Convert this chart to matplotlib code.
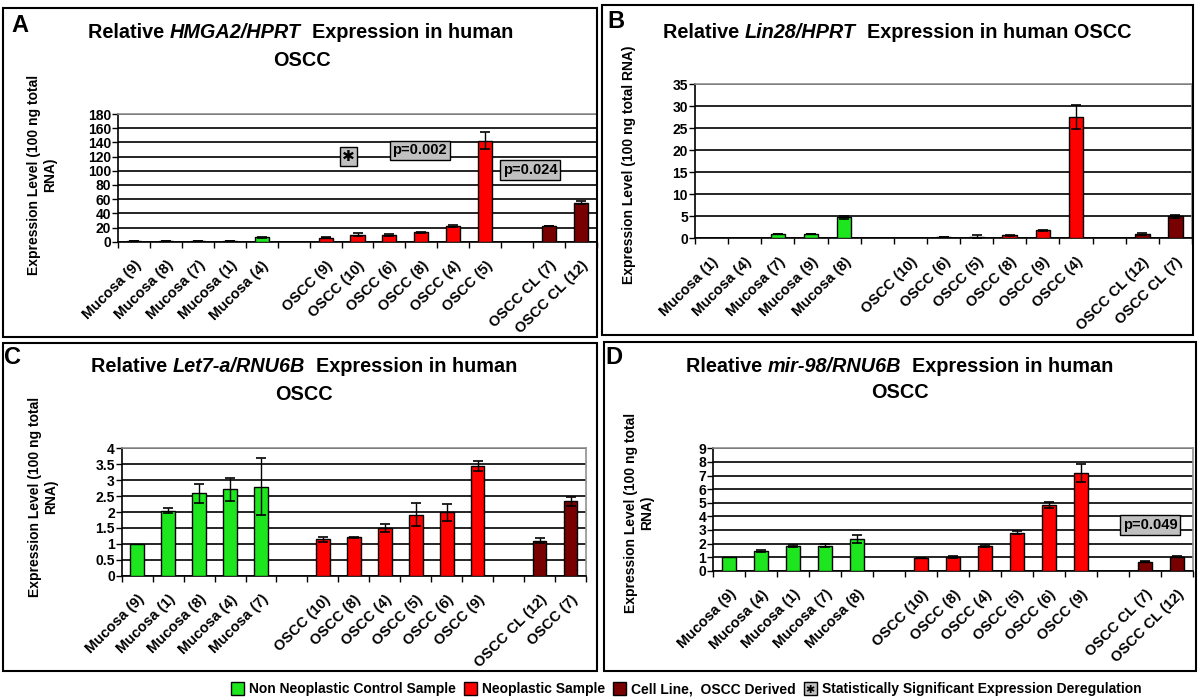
import matplotlib
matplotlib.use("Agg")
import numpy as np
import matplotlib.pyplot as plt
from matplotlib.patches import Rectangle
from matplotlib.ticker import MultipleLocator, FuncFormatter

plt.rcParams['font.family'] = ['Liberation Sans', 'DejaVu Sans']
plt.rcParams['font.weight'] = 'bold'

GREEN = '#1ee61e'
RED = '#ff0000'
DARK = '#780000'
GRAY = '#c0c0c0'
group_colors = {'M': GREEN, 'O': RED, 'C': DARK}

# ---- panel A: HMGA2/HPRT
a_labels = ['Mucosa (9)', 'Mucosa (8)', 'Mucosa (7)', 'Mucosa (1)', 'Mucosa (4)',
            'OSCC (9)', 'OSCC (10)', 'OSCC (6)', 'OSCC (8)', 'OSCC (4)', 'OSCC (5)',
            'OSCC CL (7)', 'OSCC CL (12)']
a_values = [1, 1, 1, 1, 6, 5.5, 10, 9.5, 13, 22.5, 142, 22, 55]
a_errors = [0.3, 0.3, 0.3, 0.3, 0.8, 0.5, 2, 1.5, 1, 1.5, 12, 0.5, 2]
a_groups = 'MMMMMOOOOOOCC'

# ---- panel B: Lin28/HPRT
b_labels = ['Mucosa (1)', 'Mucosa (4)', 'Mucosa (7)', 'Mucosa (9)', 'Mucosa (8)',
            'OSCC (10)', 'OSCC (6)', 'OSCC (5)', 'OSCC (8)', 'OSCC (9)', 'OSCC (4)',
            'OSCC CL (12)', 'OSCC CL (7)']
b_values = [0, 0, 1.0, 1.0, 4.8, 0, 0.3, 0.4, 0.7, 1.8, 27.6, 1.0, 5.0]
b_errors = [0, 0, 0.05, 0.05, 0.3, 0, 0.1, 0.25, 0.1, 0.05, 2.7, 0.2, 0.4]
b_groups = 'MMMMMOOOOOOCC'

# ---- panel C: Let7-a/RNU6B
c_labels = ['Mucosa (9)', 'Mucosa (1)', 'Mucosa (8)', 'Mucosa (4)', 'Mucosa (7)',
            'OSCC (10)', 'OSCC (8)', 'OSCC (4)', 'OSCC (5)', 'OSCC (6)', 'OSCC (9)',
            'OSCC CL (12)', 'OSCC (7)']
c_values = [1.0, 2.04, 2.59, 2.71, 2.8, 1.14, 1.21, 1.5, 1.92, 1.99, 3.44, 1.1, 2.33]
c_errors = [0, 0.08, 0.3, 0.35, 0.9, 0.08, 0.02, 0.13, 0.37, 0.26, 0.16, 0.07, 0.15]
c_groups = 'MMMMMOOOOOOCC'

# ---- panel D: mir-98/RNU6B
d_labels = ['Mucosa (9)', 'Mucosa (4)', 'Mucosa (1)', 'Mucosa (7)', 'Mucosa (8)',
            'OSCC (10)', 'OSCC (8)', 'OSCC (4)', 'OSCC (5)', 'OSCC (6)', 'OSCC (9)',
            'OSCC CL (7)', 'OSCC CL (12)']
d_values = [1.0, 1.45, 1.82, 1.84, 2.31, 0.92, 0.98, 1.84, 2.8, 4.83, 7.2, 0.66, 1.03]
d_errors = [0, 0.08, 0.05, 0.1, 0.3, 0.02, 0.07, 0.08, 0.1, 0.25, 0.65, 0.02, 0.03]
d_groups = 'MMMMMOOOOOOCC'

legend_labels = ['Non Neoplastic Control Sample', 'Neoplastic Sample',
                 'Cell Line,  OSCC Derived',
                 'Statistically Significant Expression Deregulation']

W, H = 1200, 700
fig = plt.figure(figsize=(12, 7), dpi=100)
rend = fig.canvas.get_renderer()


def px_axes(x0, y0, x1, y1):
    return fig.add_axes([x0 / W, 1 - y1 / H, (x1 - x0) / W, (y1 - y0) / H])


def px_box(x0, y0, x1, y1, **kw):
    fig.add_artist(Rectangle((x0 / W, 1 - y1 / H), (x1 - x0) / W, (y1 - y0) / H,
                             transform=fig.transFigure, **kw))


def ftext(x, y, s, **kw):
    return fig.text(x / W, 1 - y / H, s, **kw)


def slot_positions(groups):
    pos, x, prev = [], 0, groups[0]
    for g in groups:
        if g != prev:
            x += 1
            prev = g
        pos.append(x)
        x += 1
    return pos


def bar_panel(ax, labels, values, errors, groups, ymax, ystep):
    pos = slot_positions(groups)
    cols = [group_colors[g] for g in groups]
    ax.bar(pos, values, width=0.44, color=cols, edgecolor='black', linewidth=1, zorder=3)
    ex = [p for p, e in zip(pos, errors) if e > 0]
    ev = [v for v, e in zip(values, errors) if e > 0]
    ee = [e for e in errors if e > 0]
    ax.errorbar(ex, ev, yerr=ee, fmt='none', ecolor='black', elinewidth=1,
                capsize=3.5, capthick=1.2, zorder=4)
    ax.set_xlim(-0.5, 14.5)
    ax.set_ylim(0, ymax)
    ax.yaxis.set_major_locator(MultipleLocator(ystep))
    ax.yaxis.set_major_formatter(FuncFormatter(lambda v, _: f'{v:g}'))
    ax.set_xticks(pos)
    ax.set_xticklabels(labels, rotation=45, ha='right', rotation_mode='anchor',
                       fontsize=10.5, fontweight='bold')
    ax.set_xticks(np.arange(-0.5, 15, 1), minor=True)
    ax.tick_params(axis='x', which='major', length=0, pad=12)
    ax.tick_params(axis='x', which='minor', length=4, width=1, direction='out')
    ax.tick_params(axis='y', length=4, width=1, labelsize=10, pad=1)
    for t in ax.get_yticklabels():
        t.set_fontweight('bold')
    ax.yaxis.grid(True, color='black', linewidth=1.2)
    ax.set_axisbelow(True)
    ax.spines['left'].set_color('black')
    ax.spines['bottom'].set_color('black')
    ax.spines['top'].set_color('#909090')
    ax.spines['right'].set_color('#909090')
    for s in ax.spines.values():
        s.set_linewidth(1.2)


def pbox(ax, x, y, txt):
    ax.text(x, y, txt, ha='center', va='center', fontsize=10.5, fontweight='bold', zorder=6,
            bbox=dict(boxstyle='square,pad=0.2', fc=GRAY, ec='black', lw=1))


def rich_line(xc, y, parts, size=14.3):
    # draw text pieces with mixed upright / italic, centred on xc
    items, total = [], 0
    for s, style in parts:
        t = ftext(0, y, s, fontsize=size, fontweight='bold', fontstyle=style,
                  ha='left', va='center')
        w = t.get_window_extent(rend).width
        items.append((t, w))
        total += w
    x = xc - total / 2
    for t, w in items:
        t.set_x(x / W)
        x += w


# panel frames
px_box(3, 8, 597, 337, fill=False, ec='black', lw=1.5)
px_box(602, 5, 1193, 335, fill=False, ec='black', lw=1.5)
px_box(3, 343, 597, 671, fill=False, ec='black', lw=1.5)
px_box(604, 342, 1196, 671, fill=False, ec='black', lw=1.5)

ax_a = px_axes(118, 114, 597, 241.7)
bar_panel(ax_a, a_labels, a_values, a_errors, a_groups, 180, 20)
ax_b = px_axes(695, 84.3, 1192, 238.3)
bar_panel(ax_b, b_labels, b_values, b_errors, b_groups, 35, 5)
ax_c = px_axes(121.7, 448.3, 586, 575.7)
bar_panel(ax_c, c_labels, c_values, c_errors, c_groups, 4, 0.5)
ax_d = px_axes(713.3, 448.3, 1193, 570.7)
bar_panel(ax_d, d_labels, d_values, d_errors, d_groups, 9, 1)

# significance marks
ax_a.text(6.71, 122, '\u2731', ha='center', va='center_baseline', fontsize=11,
          family='DejaVu Sans', zorder=6,
          bbox=dict(boxstyle='square,pad=0.15', fc=GRAY, ec='black', lw=1))
pbox(ax_a, 8.95, 128.6, 'p=0.002')
pbox(ax_a, 12.41, 101, 'p=0.024')
pbox(ax_d, 13.16, 3.38, 'p=0.049')

# titles
rich_line(301, 33, [('Relative ', 'normal'), ('HMGA2/HPRT', 'italic'),
                    ('  Expression in human', 'normal')])
rich_line(302, 61, [('OSCC', 'normal')])
rich_line(897, 32, [('Relative ', 'normal'), ('Lin28/HPRT', 'italic'),
                    ('  Expression in human OSCC', 'normal')])
rich_line(304, 367, [('Relative ', 'normal'), ('Let7-a/RNU6B', 'italic'),
                     ('  Expression in human', 'normal')])
rich_line(304, 395, [('OSCC', 'normal')])
rich_line(900, 366, [('Rleative ', 'normal'), ('mir-98/RNU6B', 'italic'),
                     ('  Expression in human', 'normal')])
rich_line(900, 393, [('OSCC', 'normal')])

lkw = dict(ha='center', va='center', fontsize=17, fontweight='bold')
ftext(20, 26, 'A', **lkw)
ftext(616, 22, 'B', **lkw)
ftext(12.5, 357, 'C', **lkw)
ftext(614, 357, 'D', **lkw)

ykw = dict(ha='center', va='center', rotation=90, fontsize=10, fontweight='bold',
           multialignment='center', linespacing=1.2)
ylab = 'Expression Level (100 ng total\nRNA)'
ftext(42.5, 175, ylab, **ykw)
ftext(629, 165, 'Expression Level (100 ng total RNA)', **ykw)
ftext(43, 497, ylab, **ykw)
ftext(639.5, 513, ylab, **ykw)

# legend along the bottom, laid out left to right and centred
legend_cols = [GREEN, RED, DARK, GRAY]
leg_texts, widths = [], []
for txt in legend_labels:
    t = ftext(0, 689, txt, ha='left', va='center', fontsize=10, fontweight='bold')
    leg_texts.append(t)
    widths.append(t.get_window_extent(rend).width)
sq, gap_in, gap_out = 13, 5, 8
total = sum(widths) + len(widths) * (sq + gap_in) + (len(widths) - 1) * gap_out
x = 686 - total / 2
for t, w, col in zip(leg_texts, widths, legend_cols):
    px_box(x, 682, x + sq, 695, fc=col, ec='black', lw=1)
    if col == GRAY:
        ftext(x + sq / 2, 689, '\u2731', ha='center', va='center_baseline', fontsize=8,
              family='DejaVu Sans')
    t.set_x((x + sq + gap_in) / W)
    x += sq + gap_in + w + gap_out

fig.savefig('out.png', dpi=100)
